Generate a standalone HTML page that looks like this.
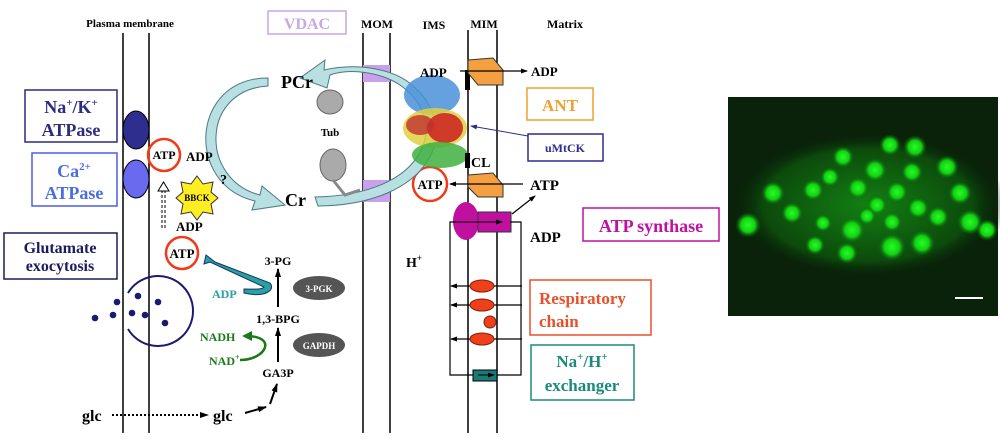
<!DOCTYPE html>
<html><head><meta charset="utf-8"><style>
html,body{margin:0;padding:0;background:#fff;width:1000px;height:438px;overflow:hidden}
svg text{font-family:"Liberation Serif",serif;font-weight:bold}
</style></head><body>
<svg width="1000" height="438" viewBox="0 0 1000 438" xmlns="http://www.w3.org/2000/svg">
<defs>
<marker id="ah" markerUnits="userSpaceOnUse" markerWidth="9" markerHeight="8" refX="8" refY="4" orient="auto"><path d="M0,1 L9,4 L0,7 z" fill="#000"/></marker>
<marker id="ahs" markerUnits="userSpaceOnUse" markerWidth="7" markerHeight="6" refX="6" refY="3" orient="auto"><path d="M0,0.5 L7,3 L0,5.5 z" fill="#000"/></marker>
<marker id="ahb" markerUnits="userSpaceOnUse" markerWidth="7" markerHeight="6" refX="6" refY="3" orient="auto"><path d="M0,0.5 L7,3 L0,5.5 z" fill="#2b2b90"/></marker>
<marker id="ahg" markerUnits="userSpaceOnUse" markerWidth="10" markerHeight="10" refX="6" refY="5" orient="auto"><path d="M0,0 L10,5 L0,10 z" fill="#1a7a1a"/></marker>
<radialGradient id="bl"><stop offset="0" stop-color="#22ff22"/><stop offset="0.55" stop-color="#14d014"/><stop offset="1" stop-color="#0a5a0a" stop-opacity="0"/></radialGradient>
<radialGradient id="cl"><stop offset="0" stop-color="#128012"/><stop offset="0.75" stop-color="#0c4a0c"/><stop offset="1" stop-color="#061806" stop-opacity="0"/></radialGradient>
</defs>

<path d="M268,86 C200,90 200,180 260,195 L262,186 L285,205 L252,210 L255,201 C185,185 190,78 268,78 z" fill="#b8dfe2" stroke="#4a7a80"/>

<text x="130" y="27" font-size="11" text-anchor="middle">Plasma membrane</text>
<rect x="268" y="11" width="78" height="23" fill="none" stroke="#c9a6e6" stroke-width="1.5"/>
<text x="307" y="29" font-size="16" fill="#c9a6e6" text-anchor="middle">VDAC</text>
<text x="377" y="28" font-size="12" text-anchor="middle" font-weight="normal">MOM</text>
<text x="434" y="29" font-size="12" text-anchor="middle" font-weight="normal">IMS</text>
<text x="484" y="28" font-size="12" text-anchor="middle" font-weight="normal">MIM</text>
<text x="565" y="28" font-size="12" text-anchor="middle">Matrix</text>

<g stroke="#000" stroke-width="1.5">
<line x1="123" y1="33" x2="123" y2="433"/><line x1="149" y1="33" x2="149" y2="433"/>
<line x1="363" y1="33" x2="363" y2="433"/><line x1="390" y1="33" x2="390" y2="433"/>
<line x1="468" y1="30" x2="468" y2="433"/><line x1="497" y1="30" x2="497" y2="433"/>
</g>
<rect x="363" y="65" width="27" height="17" fill="#c9a0ec"/>
<rect x="363" y="180" width="27" height="22" fill="#c9a0ec"/>

<rect x="25" y="90" width="92" height="52" fill="none" stroke="#2b2b80" stroke-width="1.5"/>
<text x="71" y="113" font-size="18" fill="#2b2b80" text-anchor="middle">Na<tspan font-size="11" dy="-7">+</tspan><tspan dy="7">/K</tspan><tspan font-size="11" dy="-7">+</tspan></text>
<text x="71" y="136" font-size="18" fill="#2b2b80" text-anchor="middle">ATPase</text>
<rect x="32" y="153" width="85" height="53" fill="none" stroke="#4a5ee0" stroke-width="1.5"/>
<text x="74" y="177" font-size="18" fill="#4a6ee0" text-anchor="middle">Ca<tspan font-size="11" dy="-7">2+</tspan></text>
<text x="74" y="199" font-size="18" fill="#4a6ee0" text-anchor="middle">ATPase</text>
<rect x="4" y="233" width="113" height="46" fill="none" stroke="#1a1a60" stroke-width="1.5"/>
<text x="60" y="253" font-size="16" fill="#1a1a60" text-anchor="middle">Glutamate</text>
<text x="60" y="271" font-size="16" fill="#1a1a60" text-anchor="middle">exocytosis</text>

<ellipse cx="136" cy="130" rx="13" ry="19" fill="#2e2e90" stroke="#000"/>
<ellipse cx="136" cy="179" rx="13" ry="19" fill="#6a6af0" stroke="#000"/>

<g fill="none" stroke="#f03a1a" stroke-width="2.5">
<circle cx="164" cy="155" r="16"/><circle cx="182" cy="253" r="16"/><circle cx="430" cy="184" r="17"/>
</g>
<text x="164" y="159" font-size="12" text-anchor="middle">ATP</text>
<text x="182" y="258" font-size="13" text-anchor="middle">ATP</text>
<text x="430" y="189" font-size="13" text-anchor="middle">ATP</text>
<polygon points="197,176 203,184 213,182 211,192 218,198 211,204 213,214 203,212 197,220 191,212 181,214 183,204 176,198 183,192 181,182 191,184" fill="#ffee22" stroke="#333"/>
<text x="197" y="201" font-size="9" text-anchor="middle">BBCK</text>
<text x="220" y="184" font-size="14">?</text>
<text x="186" y="161" font-size="13">ADP</text>
<text x="176" y="231" font-size="13">ADP</text>
<line x1="162" y1="228" x2="162" y2="190" stroke="#000" stroke-width="1" stroke-dasharray="3,2"/>
<line x1="165" y1="228" x2="165" y2="190" stroke="#000" stroke-width="1" stroke-dasharray="3,2"/>
<polygon points="158,191 163.5,182 169,191" fill="#fff" stroke="#000"/>

<path d="M128,293 A35,35 0 1 1 128,329" fill="none" stroke="#1a1a70" stroke-width="2"/>
<g fill="#1a1a70">
<circle cx="138" cy="296" r="3.3"/><circle cx="117" cy="302" r="3.3"/><circle cx="158" cy="302" r="3.3"/>
<circle cx="95" cy="318" r="3.3"/><circle cx="113" cy="315" r="3.3"/><circle cx="132" cy="313" r="3.3"/><circle cx="145" cy="315" r="3.3"/><circle cx="165" cy="323" r="3.3"/>
</g>

<text x="82" y="421" font-size="16">glc</text>
<line x1="112" y1="415" x2="208" y2="415" stroke="#000" stroke-width="2" stroke-dasharray="2,2" marker-end="url(#ah)"/>
<text x="213" y="421" font-size="16">glc</text>
<line x1="245" y1="413" x2="266" y2="407" stroke="#000" stroke-width="2" marker-end="url(#ah)"/>
<line x1="270" y1="404" x2="277" y2="384" stroke="#000" stroke-width="2" marker-end="url(#ah)"/>
<text x="278" y="377" font-size="12" text-anchor="middle">GA3P</text>
<line x1="278" y1="362" x2="278" y2="328" stroke="#000" stroke-width="2" marker-end="url(#ah)"/>
<text x="278" y="323" font-size="12" text-anchor="middle">1,3-BPG</text>
<line x1="278" y1="307" x2="278" y2="269" stroke="#000" stroke-width="2" marker-end="url(#ah)"/>
<text x="278" y="265" font-size="12" text-anchor="middle">3-PG</text>
<ellipse cx="319" cy="288" rx="26" ry="12" fill="#555"/>
<text x="319" y="292" font-size="9" fill="#fff" text-anchor="middle" font-family="Liberation Sans">3-PGK</text>
<ellipse cx="319" cy="345" rx="26" ry="12" fill="#555"/>
<text x="319" y="349" font-size="9" fill="#fff" text-anchor="middle" font-family="Liberation Sans">GAPDH</text>
<text x="212" y="298" font-size="12" fill="#2aa0a0">ADP</text>
<path d="M244,293 C265,298 276,290 270,283 L215,262 L206,255 L204,264 L210,262 L264,287 C262,290 252,289 244,289 z" fill="#2aa0a0" stroke="#136"/>
<text x="200" y="341" font-size="12" fill="#1a7a1a">NADH</text>
<text x="209" y="365" font-size="12" fill="#1a7a1a">NAD<tspan font-size="8" dy="-5">+</tspan></text>
<path d="M240,360 C266,360 278,336 246,336" fill="none" stroke="#1a7a1a" stroke-width="2.5" marker-end="url(#ahg)"/>

<path d="M315,197 C430,195 450,120 400,85 C380,72 350,68 330,75 L327,88 L300,78 L325,60 L324,70 C360,62 395,70 412,85 C465,130 430,205 318,206 z" fill="#b8dfe2" stroke="#4a7a80"/>
<text x="281" y="88" font-size="18" font-weight="normal">PCr</text>
<text x="285" y="206" font-size="18" font-weight="normal">Cr</text>
<ellipse cx="330" cy="102" rx="13" ry="12" fill="#aaa" stroke="#666"/>
<text x="330" y="136" font-size="11" text-anchor="middle">Tub</text>
<ellipse cx="333" cy="165" rx="13" ry="16" fill="#aaa" stroke="#666"/>
<path d="M333,180 L345,195 L360,190" fill="none" stroke="#888" stroke-width="3"/>

<ellipse cx="432" cy="95" rx="28" ry="20" fill="#4a90d8" opacity="0.85"/>
<ellipse cx="435" cy="128" rx="32" ry="20" fill="#e0d040" opacity="0.85"/>
<ellipse cx="445" cy="128" rx="18" ry="15" fill="#cc2020" opacity="0.85"/>
<ellipse cx="420" cy="125" rx="14" ry="10" fill="#c03030" opacity="0.8"/>
<ellipse cx="440" cy="155" rx="28" ry="13" fill="#40b040" opacity="0.85"/>
<rect x="465" y="70" width="5" height="20" fill="#000"/>
<rect x="465" y="153" width="5" height="15" fill="#000"/>
<text x="420" y="77" font-size="13">ADP</text>
<text x="471" y="167" font-size="14">CL</text>
<polygon points="468,60 493,58 503,70 503,85 478,85 468,73" fill="#f5a040" stroke="#333"/>
<polygon points="468,175 493,173 503,185 503,197 478,197 468,187" fill="#f5a040" stroke="#333"/>
<line x1="460" y1="71" x2="527" y2="71" stroke="#000" stroke-width="1.2" marker-end="url(#ahs)"/>
<text x="531" y="76" font-size="13">ADP</text>
<rect x="527" y="88" width="66" height="32" fill="none" stroke="#f0a030" stroke-width="1.5"/>
<text x="560" y="111" font-size="17" fill="#f0a030" text-anchor="middle">ANT</text>
<rect x="528" y="134" width="75" height="27" fill="none" stroke="#2b2b90" stroke-width="1.5"/>
<text x="565" y="152" font-size="12" fill="#2b2b90" text-anchor="middle">uMtCK</text>
<line x1="528" y1="136" x2="471" y2="126" stroke="#2b2b90" stroke-width="1" marker-end="url(#ahb)"/>
<line x1="523" y1="184" x2="450" y2="184" stroke="#000" stroke-width="1.2" marker-end="url(#ahs)"/>
<text x="530" y="190" font-size="15">ATP</text>

<ellipse cx="466" cy="221" rx="13" ry="19" fill="#c010a0"/>
<rect x="478" y="212" width="33" height="20" fill="#c010a0" stroke="#333"/>
<line x1="451" y1="222" x2="502" y2="222" stroke="#000" stroke-width="1" marker-end="url(#ahs)"/>
<line x1="512" y1="214" x2="535" y2="196" stroke="#000" stroke-width="1.2" marker-end="url(#ahs)"/>
<text x="530" y="242" font-size="15">ADP</text>
<rect x="583" y="208" width="136" height="33" fill="none" stroke="#c010a0" stroke-width="1.5"/>
<text x="651" y="232" font-size="18" fill="#c010a0" text-anchor="middle">ATP synthase</text>
<text x="406" y="267" font-size="14">H<tspan font-size="9" dy="-6">+</tspan></text>

<g stroke="#000" stroke-width="1.2" fill="none">
<path d="M510,222 L521,222 L521,375 L450,375 L450,222 L456,222"/>
<line x1="522" y1="286" x2="451" y2="286" marker-end="url(#ahs)"/>
<line x1="522" y1="305" x2="451" y2="305" marker-end="url(#ahs)"/>
<line x1="522" y1="339" x2="451" y2="339" marker-end="url(#ahs)"/>
</g>
<g fill="#f0401a" stroke="#802010">
<ellipse cx="482" cy="286" rx="12" ry="6"/><ellipse cx="482" cy="305" rx="12" ry="6"/>
<circle cx="490" cy="322" r="6"/><ellipse cx="482" cy="339" rx="12" ry="6"/>
</g>
<rect x="473" y="370" width="24" height="11" fill="#1a7a7a" stroke="#000"/>
<line x1="478" y1="375" x2="494" y2="375" stroke="#000" marker-end="url(#ahs)"/>
<rect x="530" y="280" width="121" height="55" fill="none" stroke="#e8502a" stroke-width="1.5"/>
<text x="539" y="304" font-size="17" fill="#e8502a">Respiratory</text>
<text x="539" y="327" font-size="17" fill="#e8502a">chain</text>
<rect x="531" y="345" width="103" height="55" fill="none" stroke="#1a8a7a" stroke-width="1.5"/>
<text x="582" y="367" font-size="17" fill="#1a8a7a" text-anchor="middle">Na<tspan font-size="11" dy="-7">+</tspan><tspan dy="7">/H</tspan><tspan font-size="11" dy="-7">+</tspan></text>
<text x="582" y="391" font-size="17" fill="#1a8a7a" text-anchor="middle">exchanger</text>

<rect x="728" y="97" width="270" height="219" fill="#0a220a"/>
<ellipse cx="868" cy="205" rx="140" ry="75" fill="url(#cl)"/>
<g fill="url(#bl)">
<circle cx="890" cy="145" r="11"/><circle cx="915" cy="147" r="12"/><circle cx="843" cy="157" r="11"/><circle cx="947" cy="167" r="12"/>
<circle cx="875" cy="170" r="12"/><circle cx="912" cy="172" r="11"/><circle cx="830" cy="177" r="10"/><circle cx="813" cy="190" r="11"/>
<circle cx="858" cy="188" r="11"/><circle cx="897" cy="192" r="11"/><circle cx="773" cy="193" r="12"/><circle cx="960" cy="193" r="12"/>
<circle cx="792" cy="213" r="11"/><circle cx="877" cy="205" r="10"/><circle cx="918" cy="208" r="11"/><circle cx="867" cy="216" r="9"/>
<circle cx="938" cy="217" r="11"/><circle cx="970" cy="222" r="13"/><circle cx="748" cy="225" r="13"/><circle cx="823" cy="223" r="9"/>
<circle cx="852" cy="230" r="13"/><circle cx="892" cy="222" r="10"/><circle cx="815" cy="245" r="10"/><circle cx="847" cy="253" r="11"/>
<circle cx="892" cy="247" r="14"/><circle cx="922" cy="243" r="13"/><circle cx="987" cy="230" r="11"/>
</g>
<line x1="955" y1="298" x2="983" y2="298" stroke="#fff" stroke-width="2"/>
</svg>
</body></html>
